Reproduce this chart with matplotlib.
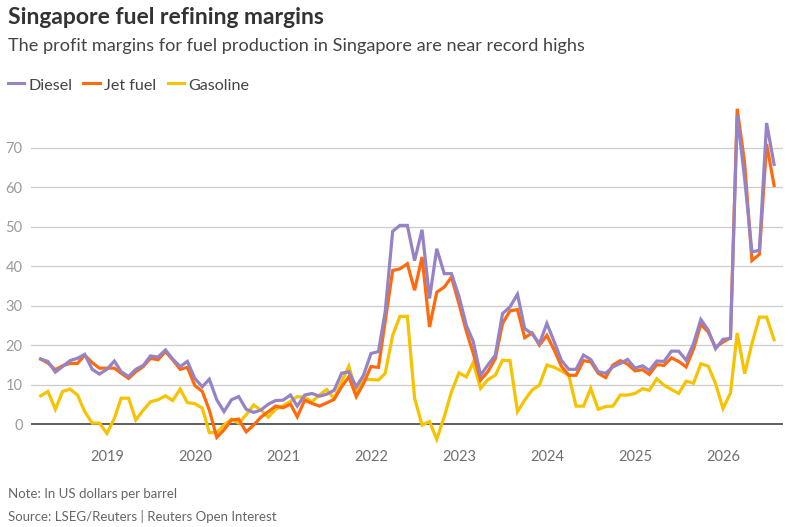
import matplotlib
matplotlib.use("Agg")
import matplotlib.pyplot as plt
import matplotlib.dates as mdates
from matplotlib.lines import Line2D
import pandas as pd

# ---- data (US$/bbl, monthly) ----
months = pd.date_range("2018-04-01", periods=101, freq="MS")

diesel = [16.5, 15.9, 13.2, 14.6, 16.1, 16.7, 17.7, 13.9, 12.7, 13.9,
          16.0, 13.3, 12.1, 13.9, 14.9, 17.3, 17.0, 18.8, 16.5, 14.6,
          15.9, 11.6, 9.5, 11.4, 6.2, 3.2, 6.2, 7.0, 3.8, 3.0,
          3.6, 5.1, 6.0, 6.1, 7.4, 4.6, 7.4, 7.8, 7.1, 7.6,
          8.6, 12.9, 13.3, 9.5, 12.4, 17.9, 18.4, 28.5, 48.8, 50.3,
          50.3, 41.4, 49.2, 31.8, 44.4, 38.1, 38.1, 32.4, 25.0, 21.0,
          12.4, 15.0, 17.5, 28.0, 29.7, 32.9, 24.2, 22.9, 20.4, 25.5,
          20.8, 16.2, 13.9, 13.9, 17.5, 16.4, 13.3, 12.9, 14.5, 15.4,
          16.4, 14.2, 14.8, 13.6, 16.0, 15.9, 18.5, 18.5, 16.2, 20.5,
          26.5, 23.8, 19.1, 21.5, 21.7, 78.1, 62.0, 43.6, 44.0, 76.2,
          65.7]

jet_fuel = [16.5, 15.5, 13.8, 14.8, 15.4, 15.4, 17.5, 15.6, 14.2, 14.2,
            14.2, 12.9, 11.6, 13.3, 14.6, 16.7, 16.3, 18.4, 16.3, 13.9,
            14.4, 9.8, 8.3, 3.6, -3.3, -1.4, 1.1, 1.3, -1.9, -0.2,
            1.8, 3.2, 4.6, 4.2, 5.1, 1.9, 6.1, 5.3, 4.6, 5.4,
            6.3, 9.5, 12.0, 7.0, 10.3, 14.6, 14.4, 26.0, 38.9, 39.3,
            40.6, 33.9, 42.3, 24.6, 33.4, 34.7, 37.2, 30.5, 23.5, 18.0,
            11.2, 13.3, 16.6, 25.5, 28.7, 29.0, 21.9, 23.1, 20.0, 22.5,
            18.7, 14.7, 12.4, 12.4, 16.1, 15.8, 12.9, 11.8, 15.0, 16.1,
            15.2, 13.5, 13.8, 12.6, 15.1, 14.9, 16.8, 15.9, 14.5, 19.1,
            25.3, 23.3, 19.5, 20.8, 21.9, 79.8, 66.0, 41.4, 43.0, 70.9,
            60.4]

gasoline = [7.2, 8.3, 3.8, 8.3, 8.9, 7.4, 3.2, 0.3, 0.3, -2.3,
            1.5, 6.6, 6.6, 1.1, 3.6, 5.7, 6.2, 7.2, 6.0, 8.9,
            5.5, 5.2, 4.1, -2.1, -2.1, -0.2, 1.3, 0.3, 2.4, 4.9,
            3.6, 1.8, 3.8, 4.7, 5.8, 7.0, 6.8, 5.7, 7.4, 8.8,
            6.5, 10.8, 14.7, 8.2, 11.4, 11.3, 11.2, 12.9, 22.5, 27.3,
            27.3, 6.6, -0.2, 0.7, -3.8, 1.9, 8.2, 13.0, 12.0, 15.6,
            9.1, 11.3, 12.4, 16.2, 16.1, 3.2, 6.1, 8.7, 9.9, 15.0,
            14.4, 13.5, 12.4, 4.6, 4.6, 9.1, 3.8, 4.5, 4.6, 7.4,
            7.4, 7.8, 9.0, 8.6, 11.5, 9.9, 8.8, 7.8, 10.9, 10.4,
            15.3, 14.7, 10.3, 4.0, 7.9, 23.1, 12.8, 20.4, 27.1, 27.1,
            21.4]

series_names = ["Diesel", "Jet fuel", "Gasoline"]
y_ticks = [0, 10, 20, 30, 40, 50, 60, 70]
x_tick_years = [2019, 2020, 2021, 2022, 2023, 2024, 2025, 2026]

# ---- style ----
C_DIESEL = "#9683c6"
C_JET = "#ff6a0d"
C_GAS = "#f7c200"
FONT = ["Lato", "DejaVu Sans"]
plt.rcParams["font.family"] = FONT

W, H = 791, 527
fig = plt.figure(figsize=(W / 100, H / 100), dpi=100)

def fx(px):
    return px / W

def fy(py):
    return 1 - py / H

ax_left, ax_right, ax_top, ax_bot = 31, 783, 100, 442
ax = fig.add_axes([fx(ax_left), fy(ax_bot), fx(ax_right - ax_left), (ax_bot - ax_top) / H])

# y mapping: 0 at px 424.3, 70 at px 147.5
zero_px, ppu = 424.3, (424.3 - 147.5) / 70
ax.set_ylim((zero_px - ax_bot) / ppu, (zero_px - ax_top) / ppu)
ax.set_xlim(months[0] - pd.Timedelta(days=40), months[-1] + pd.Timedelta(days=37))

for s in ax.spines.values():
    s.set_visible(False)

for t in y_ticks[1:]:
    ax.axhline(t, color="#cccccc", lw=0.9, zorder=1)
ax.axhline(0, color="#333333", lw=1.1, zorder=1)

lw = 2.3
ax.plot(months, gasoline, color=C_GAS, lw=lw, zorder=3, solid_joinstyle="miter", clip_on=False)
ax.plot(months, jet_fuel, color=C_JET, lw=lw, zorder=4, solid_joinstyle="miter", clip_on=False)
ax.plot(months, diesel, color=C_DIESEL, lw=lw, zorder=5, solid_joinstyle="miter", clip_on=False)

ax.set_yticks(y_ticks)
ax.set_yticklabels([str(t) for t in y_ticks])
ax.set_xticks([pd.Timestamp(f"{y}-01-01") for y in x_tick_years])
ax.set_xticklabels([str(y) for y in x_tick_years])
ax.tick_params(axis="y", length=0, pad=6, labelsize=10.5, labelcolor="#9a9a9a")
ax.tick_params(axis="x", length=0, pad=5.5, labelsize=10.5, labelcolor="#6e6e6e")

# ---- titles ----
fig.text(fx(8), fy(23.5), "Singapore fuel refining margins", fontsize=16.5,
         fontweight="bold", color="#333333", va="baseline", ha="left")
fig.text(fx(8), fy(50.7), "The profit margins for fuel production in Singapore are near record highs",
         fontsize=13.1, color="#444444", va="baseline", ha="left")

# ---- legend ----
leg = [(7.5, 24, 28.5, C_DIESEL, series_names[0]),
       (83, 100, 104, C_JET, series_names[1]),
       (167.5, 184, 188, C_GAS, series_names[2])]
for x0, x1, xt, c, name in leg:
    fig.add_artist(Line2D([fx(x0), fx(x1)], [fy(83.3), fy(83.3)], color=c, lw=2.2,
                          transform=fig.transFigure))
    fig.text(fx(xt), fy(90.5), name, fontsize=11.6, color="#444444", va="baseline", ha="left")

# ---- footer ----
fig.text(fx(7.5), fy(498.3), "Note: In US dollars per barrel", fontsize=9.5,
         color="#666666", va="baseline", ha="left")
fig.text(fx(7.5), fy(521), "Source: LSEG/Reuters | Reuters Open Interest", fontsize=9.5,
         color="#666666", va="baseline", ha="left")

fig.savefig("out.png", dpi=100)
